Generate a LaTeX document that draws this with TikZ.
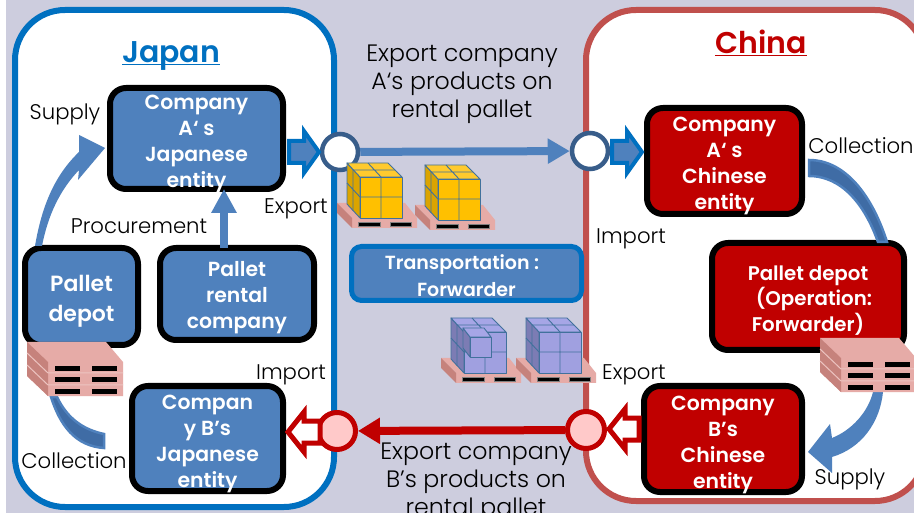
\documentclass[tikz,border=0pt]{standalone}
\usepackage{fontspec}
\setmainfont{Poppins}[BoldFont={Poppins SemiBold}]
\newfontfamily\lightfont{Poppins Light}
\usetikzlibrary{arrows.meta,calc}
\definecolor{bgl}{HTML}{CDCDDE}
\definecolor{jpblue}{HTML}{0070C0}
\definecolor{boxblue}{HTML}{4F81BD}
\definecolor{ringblue}{HTML}{385D8A}
\definecolor{cnred}{HTML}{C00000}
\definecolor{panelred}{HTML}{C0504D}
\definecolor{pink}{HTML}{FFC9C9}
\definecolor{palt}{HTML}{E6ABA7}
\definecolor{pals}{HTML}{C6827C}
\definecolor{cubeline}{HTML}{41719C}
\definecolor{darkblue}{HTML}{3F6CA5}
\definecolor{yfront}{HTML}{FFC000}
\definecolor{yside}{HTML}{DBA400}
\definecolor{ytop}{HTML}{FFCA2E}
\definecolor{pfront}{HTML}{A0A0E0}
\definecolor{pside}{HTML}{7C7CB4}
\definecolor{ptop}{HTML}{A6A6E6}
\tikzset{
  x=1pt,y=-1pt,
  panel/.style={line width=6pt,fill=white,rounded corners=50pt},
  ent/.style={draw=black,line width=6pt,rounded corners=16pt,inner sep=0pt,outer sep=0pt},
  enttext/.style={text=white,align=center,font=\bfseries\fontsize{20.4}{26}\selectfont,inner sep=0pt},
  lbl/.style={inner sep=0pt,font=\lightfont\fontsize{21.2}{28}\selectfont,align=center,text=black},
  flowtext/.style={lbl,font=\lightfont\fontsize{23.7}{28}\selectfont},
  title/.style={inner sep=0pt,font=\bfseries\fontsize{30}{32}\selectfont},
  ring/.style={circle,draw=ringblue,fill=white,line width=4.5pt,minimum size=36pt,inner sep=0pt},
  redring/.style={circle,draw=cnred,fill=pink,line width=5pt,minimum size=37pt,inner sep=0pt},
  flow/.style={line width=8pt,draw=boxblue,-{Triangle[length=22pt,width=24pt]}},
  redflow/.style={line width=8pt,draw=cnred,-{Triangle[length=22pt,width=25pt]}},
  hollowblue/.style={draw=jpblue,fill=boxblue,line width=4pt,miter limit=10},
  hollowred/.style={draw=cnred,fill=white,line width=5pt,miter limit=10},
  cube/.style={draw=cubeline,line width=.9pt,line join=round},
  curvearrow/.style={fill=boxblue},
  curveband/.style={draw=boxblue,fill=darkblue,line width=2.5pt},
}
% block arrow: #1 style, #2 tail x, #3 head base x, #4 tip x, #5 y, #6 shaft half height, #7 head half height
\newcommand{\blockarrow}[7]{\draw[#1] (#2,#5-#6) -- (#3,#5-#6) -- (#3,#5-#7) -- (#4,#5) -- (#3,#5+#7) -- (#3,#5+#6) -- (#2,#5+#6) -- cycle;}
\newcommand{\palletbase}{%
  \fill[palt] (-23,-15) -- (45,-15) -- (57,0) -- (57,10) -- (-8,10) -- (-8,0) -- cycle;
  \fill[pals] (-23,-15) -- (-8,0) -- (-8,10) -- (-23,-5) -- cycle;
  \fill[black,draw=black!50,line width=.7pt] (-2,4) rectangle (20,8);
  \fill[black,draw=black!50,line width=.7pt] (30,4) rectangle (51,8);
}
\newcommand{\loadcube}[3]{%
  \draw[cube,fill=#2] (0,0) -- (0,-41) -- (-13,-55) -- (-13,-14) -- cycle;
  \draw[cube,fill=#3] (-13,-55) -- (28,-55) -- (42,-41) -- (0,-41) -- cycle;
  \draw[cube,fill=#1] (0,0) rectangle (42,-41);
  \draw[cube] (21,0) -- (21,-41) (0,-21) -- (42,-21) (0,-21) -- (-13,-35) (-7,-7) -- (-7,-48) -- (35,-48) (8,-55) -- (21,-41);
}
\newcommand{\palletstack}[2]{%
  \begin{scope}[shift={(#1,#2)}]
    \fill[palt] (0,0) -- (79,0) -- (96,20) -- (96,54) -- (21,54) -- (0,34) -- cycle;
    \fill[pals] (0,0) -- (21,20) -- (21,54) -- (0,34) -- cycle;
    \draw[palt!70!white,line width=1pt] (21,31) -- (96,31) (21,43) -- (96,43) (0,11) -- (21,31) (0,23) -- (21,43);
    \foreach \yy in {24,35.5,47}{
      \fill[black] (28,\yy) rectangle (53,\yy+5);
      \fill[black] (65,\yy) rectangle (90,\yy+5);
    }
  \end{scope}
}
\begin{document}
\begin{tikzpicture}
\useasboundingbox (0,0) rectangle (914,513);
\clip (0,0) rectangle (914,513);
\fill[bgl] (6,0) rectangle (914,513);
% panels
\draw[panel,draw=jpblue] (15,10) rectangle (334,507);
\draw[panel,draw=panelred] (586,10) rectangle (925,501);
\node[title,text=jpblue] (japan) at (171,64) {\underline{\smash{Japan}}};
\node[title,text=cnred] (china) at (761,55) {\underline{\smash{China}}};
% entities
\node[ent,fill=boxblue,minimum width=173pt,minimum height=101pt] (aj) at (196.5,138.5) {};
\node[enttext] (ajt) at ($(aj.center)+(0,5)$) {Company\\A‘ s\\Japanese\\entity};
\node[ent,fill=boxblue,minimum width=113pt,minimum height=97pt] (dj) at (81.5,296.5) {};
\node[enttext,font=\bfseries\fontsize{22}{30}\selectfont] (djt) at ($(dj.center)+(0,5)$) {Pallet\\depot};
\node[ent,fill=boxblue,minimum width=154pt,minimum height=92pt] (rj) at (237,294) {};
\node[enttext] (rjt) at ($(rj.center)+(0,4)$) {Pallet\\rental\\company};
\node[ent,fill=boxblue,minimum width=151pt,minimum height=105pt] (bj) at (207.5,438.5) {};
\node[enttext] (bjt) at ($(bj.center)+(0,5)$) {Compan\\y B’s\\Japanese\\entity};
\node[ent,fill=cnred,minimum width=155pt,minimum height=106pt] (ac) at (724.5,161) {};
\node[enttext] (act) at ($(ac.center)+(0,5)$) {Company\\A‘ s\\Chinese\\entity};
\node[ent,fill=cnred,minimum width=192pt,minimum height=107pt] (dc) at (808,296.5) {};
\node[enttext,font=\bfseries\fontsize{19.8}{25.5}\selectfont] (dct) at ($(dc.center)+(0,4)$) {Pallet depot\\\hspace*{12pt}(Operation:\\Forwarder)};
\node[ent,fill=cnred,minimum width=158pt,minimum height=106pt] (bc) at (723,439) {};
\node[enttext] (bct) at ($(bc.center)+(0,6)$) {Company\\B’s\\Chinese\\entity};
\node[ent,draw=jpblue,line width=5pt,fill=boxblue,rounded corners=10pt,minimum width=230pt,minimum height=54pt] (fw) at (466.5,273.5) {};
\node[enttext,font=\bfseries\fontsize{19}{26.5}\selectfont] (fwt) at ($(fw.center)+(0,2)$) {Transportation\ :\hspace*{9pt}\\Forwarder};
% procurement arrow
\draw[line width=8pt,draw=boxblue,-{Triangle[length=24pt,width=24pt]}] (rj.north -| 224,0) -- (aj.south -| 224,0);
% curved arrows
\fill[curvearrow] (35,246) .. controls (42,205) and (55,175) .. (79,152) -- (79,135) -- (105,148) -- (78,180) -- (79,170) .. controls (60,190) and (48,215) .. (42,246) -- cycle;
\draw[curveband] (51,397) .. controls (60,425) and (75,446) .. (104,448) -- (104,434) .. controls (85,430) and (68,420) .. (57,397) -- cycle;
\draw[curveband] (809,160) .. controls (845,160) and (872,195) .. (887,242) -- (878,242) .. controls (865,205) and (842,176) .. (809,176) -- cycle;
\fill[curvearrow] (873,392) .. controls (868,412) and (852,430) .. (832,438) -- (830,424) -- (808,452) -- (832,473) -- (832,457) .. controls (862,448) and (880,422) .. (883,392) -- cycle;
% pallet stacks
\palletstack{27}{342}
\palletstack{820}{338}
% rings and flows
\node[ring] (c1) at (340,152) {};
\node[ring] (c2) at (590,151) {};
\node[redring] (p1) at (337,431) {};
\node[redring] (p2) at (586,430) {};
\draw[flow] (c1) -- (c2);
\draw[redflow] (p2) -- (p1);
\blockarrow{hollowblue}{289}{304}{319}{152}{11}{21}
\blockarrow{hollowblue}{612}{627}{642}{152}{11}{21}
\blockarrow{hollowred}{320}{304}{288}{432}{11}{20}
\blockarrow{hollowred}{639}{625}{609}{429}{11}{20}
% loads
\begin{scope}[shift={(360,218)}]\palletbase\loadcube{yfront}{yside}{ytop}\end{scope}
\begin{scope}[shift={(438,220)}]\palletbase\loadcube{yfront}{yside}{ytop}\end{scope}
\begin{scope}[shift={(464,373)}]\palletbase\loadcube{pfront}{pside}{ptop}
  \draw[cube,fill=pside] (6,-36) -- (-1,-45) -- (-1,-25) -- (6,-16) -- cycle;
  \draw[cube,fill=ptop] (-1,-45) -- (20,-45) -- (27,-36) -- (6,-36) -- cycle;
  \draw[cube,fill=pfront] (6,-36) rectangle (27,-16);
\end{scope}
\begin{scope}[shift={(539,373)}]\palletbase\loadcube{pfront}{pside}{ptop}\end{scope}
% labels
\node[lbl] (l1) at (65,114) {Supply};
\node[lbl] (l2) at (139,226) {Procurement};
\node[lbl] (l3) at (296,209) {Export};
\node[lbl] (l4) at (291,375) {Import};
\node[lbl] (l5) at (74,461) {Collection};
\node[lbl] (l6) at (861,146) {Collection};
\node[lbl] (l7) at (631,239) {Import};
\node[lbl] (l8) at (634,375) {Export};
\node[lbl] (l9) at (850,479) {Supply};
\node[flowtext] (t1) at (462,84) {Export company\\A‘s products on\\rental pallet};
\node[flowtext] (t2) at (476,482) {Export company\\B’s products on\\rental pallet};
\end{tikzpicture}
\end{document}
